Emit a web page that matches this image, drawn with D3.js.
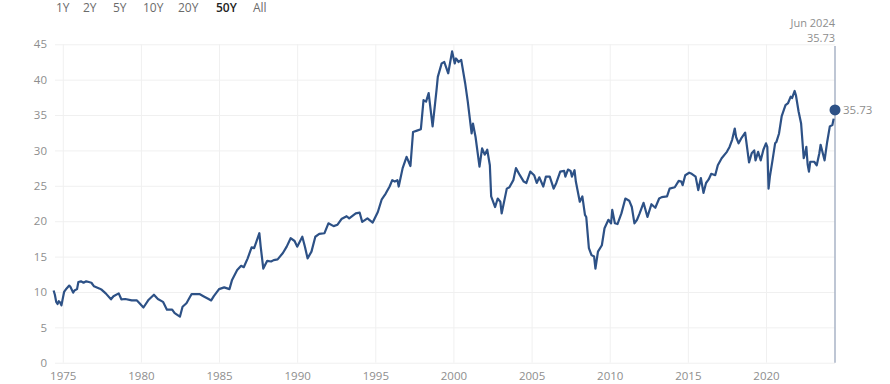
<!DOCTYPE html>
<html>
<head>
<meta charset="utf-8">
<script src="https://cdn.jsdelivr.net/npm/d3@7"></script>
<style>
  body { margin: 0; background: #fff; }
  svg { display: block; font-family: "Open Sans", "Noto Sans", sans-serif; }
</style>
</head>
<body>
<svg width="890" height="384"></svg>
<script>
// range buttons across the top
const ranges = ['1Y', '2Y', '5Y', '10Y', '20Y', '50Y', 'All'];
const activeRange = '50Y';

// y ticks and x ticks
const yTicks = [0, 5, 10, 15, 20, 25, 30, 35, 40, 45];
const xTickYears = [1975, 1980, 1985, 1990, 1995, 2000, 2005, 2010, 2015, 2020];

// monthly readings (month, value)
const months = [
  '1974-06','1974-07','1974-08','1974-09','1974-10','1974-11','1974-12',
  '1975-02','1975-04','1975-06','1975-07','1975-09','1975-10','1975-12',
  '1976-01','1976-03','1976-05','1976-07','1976-09','1976-11',
  '1977-01','1977-05','1977-07','1977-10',
  '1978-02','1978-04','1978-08','1978-10',
  '1979-01','1979-06','1979-10','1979-12',
  '1980-03','1980-07','1980-11',
  '1981-02','1981-06','1981-09',
  '1982-01','1982-03','1982-07','1982-09','1982-12',
  '1983-04','1983-10',
  '1984-01','1984-05','1984-07','1984-09',
  '1985-01','1985-05','1985-09','1985-11',
  '1986-03','1986-06','1986-08','1986-11',
  '1987-02','1987-04','1987-08','1987-09','1987-11',
  '1988-02','1988-05','1988-07','1988-10',
  '1989-02','1989-05','1989-08','1989-11',
  '1990-01','1990-05','1990-07','1990-09','1990-12',
  '1991-03','1991-06','1991-10',
  '1992-01','1992-05','1992-08','1992-11',
  '1993-03','1993-05','1993-10',
  '1994-01','1994-03','1994-07','1994-11',
  '1995-03','1995-06','1995-09','1995-12',
  '1996-02','1996-04','1996-06','1996-07','1996-10',
  '1997-01','1997-04','1997-06','1997-09','1997-12',
  '1998-02','1998-04','1998-06','1998-09','1998-12',
  '1999-01','1999-04','1999-06','1999-09','1999-12',
  '2000-02','2000-03','2000-05','2000-07','2000-10','2000-12',
  '2001-03','2001-04','2001-06','2001-09','2001-11',
  '2002-01','2002-03','2002-05','2002-06','2002-09','2002-11',
  '2003-01','2003-02','2003-06','2003-08','2003-11',
  '2004-01','2004-04','2004-07','2004-09','2004-12',
  '2005-03','2005-05','2005-07','2005-10','2005-12',
  '2006-03','2006-06','2006-08','2006-11',
  '2007-02','2007-03','2007-05','2007-07','2007-08','2007-10','2007-11',
  '2008-02','2008-04','2008-06','2008-07','2008-09','2008-11',
  '2009-01','2009-02','2009-04','2009-07','2009-09','2009-12',
  '2010-02','2010-03','2010-05','2010-07','2010-10',
  '2011-01','2011-04','2011-06','2011-08','2011-10','2011-12',
  '2012-03','2012-06','2012-09','2012-12',
  '2013-03','2013-05','2013-09','2013-11',
  '2014-03','2014-06','2014-08','2014-09','2014-11',
  '2015-02','2015-04','2015-07','2015-09','2015-11',
  '2016-01','2016-03','2016-05','2016-07','2016-10','2016-12',
  '2017-03','2017-07','2017-09','2017-11',
  '2018-01','2018-02','2018-04','2018-06','2018-09','2018-12',
  '2019-02','2019-04','2019-05','2019-07','2019-09','2019-11',
  '2020-01','2020-02','2020-03','2020-04','2020-06','2020-08','2020-09','2020-11',
  '2021-01','2021-04','2021-06','2021-08','2021-09','2021-11','2021-12',
  '2022-02','2022-04','2022-06','2022-07','2022-08','2022-09','2022-10','2022-11',
  '2023-02','2023-04','2023-06','2023-07','2023-10','2023-12',
  '2024-02','2024-04','2024-05'
];
const values = [
  10.2, 9.6, 8.6, 8.3, 8.7, 8.5, 8.1,
  10.0, 10.5, 10.9, 10.7, 9.9, 10.2, 10.4,
  11.4, 11.5, 11.3, 11.5, 11.4, 11.3,
  10.8, 10.5, 10.3, 9.8,
  8.96, 9.4, 9.8, 8.96,
  9.0, 8.8, 8.8, 8.4,
  7.8, 8.9, 9.6,
  9.0, 8.6, 7.5,
  7.5, 7.0, 6.5, 7.9, 8.4,
  9.7, 9.7,
  9.4, 9.0, 8.8, 9.4,
  10.4, 10.65, 10.4, 11.7,
  13.1, 13.7, 13.5, 14.75,
  16.3, 16.2, 18.3, 16.4, 13.3,
  14.4, 14.3, 14.5, 14.6,
  15.5, 16.4, 17.6, 17.2,
  16.4, 17.8, 16.4, 14.75, 15.7,
  17.8, 18.2, 18.3,
  19.7, 19.3, 19.5, 20.3,
  20.7, 20.4, 21.1,
  21.2, 19.9, 20.4, 19.8,
  21.3, 23.1, 23.9, 24.9,
  25.8, 25.6, 25.8, 24.9, 27.5,
  29.1, 27.8, 32.6, 32.8, 33.0,
  37.1, 36.9, 38.1, 33.4, 38.5,
  40.4, 42.3, 42.5, 40.9, 44.0,
  42.3, 43.0, 42.5, 42.8, 39.5, 36.9,
  32.4, 33.8, 31.9, 27.7, 30.3,
  29.4, 30.1, 27.9, 23.5, 22.0, 23.2,
  22.75, 21.1, 24.6, 24.8, 25.8,
  27.5, 26.5, 25.6, 25.4, 27.0,
  26.5, 25.4, 26.2, 24.9, 26.3,
  26.3, 24.6, 25.4, 27.0,
  27.1, 26.3, 27.3, 27.1, 26.3, 27.2, 25.6,
  22.75, 23.5, 20.9, 20.6, 16.2, 15.2,
  15.0, 13.3, 15.7, 16.6, 19.0, 20.2,
  19.7, 21.6, 19.7, 19.6, 21.1,
  23.2, 22.9, 22.0, 19.7, 20.2, 21.1,
  22.6, 20.6, 22.4, 21.9,
  23.2, 23.4, 23.5, 24.6,
  24.8, 25.7, 25.6, 25.1, 26.5,
  26.85, 26.7, 26.3, 24.4, 26.1,
  24.0, 25.4, 25.9, 26.7, 26.5, 27.9,
  28.9, 29.8, 30.5, 31.5,
  33.1, 31.9, 31.0, 31.7, 32.5, 28.3,
  29.6, 30.0, 28.6, 29.8, 28.6, 30.1,
  31.0, 30.5, 24.6, 26.3, 28.6, 31.0, 31.2, 32.4,
  34.8, 36.4, 36.7, 37.6, 37.4, 38.4, 37.8,
  35.5, 33.8, 28.9, 29.5, 30.5, 28.0, 27.0, 28.4,
  28.4, 27.9, 29.6, 30.8, 28.6, 31.2,
  33.4, 33.6, 34.5
];

// latest reading shown with the marker
const lastLabel = 'Jun 2024';
const lastMonth = '2024-06';
const lastValue = 35.73;

const parseMonth = d3.timeParse('%Y-%m');
const data = months.map((m, i) => ({ date: parseMonth(m), value: values[i] }));

const svg = d3.select('svg');

const x = d3.scaleTime()
  .domain([parseMonth('1974-06'), parseMonth(lastMonth)])
  .range([53.6, 835]);

const y = d3.scaleLinear()
  .domain([0, 45])
  .range([362.7, 44.3]);

const gridColor = '#f0f0f0';
const labelColor = '#8e8e8e';
const lineColor = '#2d5186';
const fontStack = '"Open Sans", "Noto Sans", sans-serif';

// range buttons
const btnX = [56, 83, 113, 143, 178, 216, 253];
svg.append('g').selectAll('text')
  .data(ranges)
  .join('text')
  .attr('x', (d, i) => btnX[i])
  .attr('y', 12)
  .attr('font-size', 12)
  .attr('fill', d => d === activeRange ? '#222' : '#6b6b6b')
  .attr('font-weight', d => d === activeRange ? 600 : 400)
  .text(d => d);

// horizontal grid + y labels
const yAxis = svg.append('g')
  .attr('transform', 'translate(55,0)')
  .call(d3.axisLeft(y).tickValues(yTicks).tickSize(-780).tickPadding(8));
yAxis.select('.domain').remove();
yAxis.selectAll('.tick line').attr('stroke', gridColor);
yAxis.selectAll('.tick text')
  .attr('fill', labelColor)
  .attr('font-size', 11.5)
  .attr('font-family', fontStack);

// vertical grid + x labels
const xAxis = svg.append('g')
  .attr('transform', 'translate(0,' + y(0) + ')')
  .call(d3.axisBottom(x)
    .tickValues(xTickYears.map(yr => new Date(yr, 0, 1)))
    .tickFormat(d3.timeFormat('%Y'))
    .tickSize(-(y(0) - y(45)))
    .tickPadding(9));
xAxis.select('.domain').remove();
xAxis.selectAll('.tick line').attr('stroke', gridColor);
xAxis.selectAll('.tick text')
  .attr('fill', labelColor)
  .attr('font-size', 11.5)
  .attr('font-family', fontStack);

// marker line at latest date
const lastX = x(parseMonth(lastMonth));
svg.append('line')
  .attr('x1', lastX).attr('x2', lastX)
  .attr('y1', 46).attr('y2', y(0))
  .attr('stroke', '#a9b3c6')
  .attr('stroke-width', 1.5);

// the series
const line = d3.line()
  .x(d => x(d.date))
  .y(d => y(d.value));

svg.append('path')
  .datum(data)
  .attr('fill', 'none')
  .attr('stroke', lineColor)
  .attr('stroke-width', 2.2)
  .attr('stroke-linejoin', 'round')
  .attr('d', line);

// last value dot + labels
svg.append('circle')
  .attr('cx', lastX)
  .attr('cy', y(lastValue))
  .attr('r', 5.5)
  .attr('fill', lineColor);

svg.append('text')
  .attr('x', lastX + 8)
  .attr('y', y(lastValue) + 4)
  .attr('font-size', 11.5)
  .attr('fill', labelColor)
  .text(lastValue.toFixed(2));

// date / value tag above the marker line
svg.append('text')
  .attr('x', lastX)
  .attr('y', 27)
  .attr('text-anchor', 'end')
  .attr('font-size', 11)
  .attr('fill', labelColor)
  .text(lastLabel);

svg.append('text')
  .attr('x', lastX)
  .attr('y', 42)
  .attr('text-anchor', 'end')
  .attr('font-size', 11)
  .attr('fill', labelColor)
  .text(lastValue.toFixed(2));
</script>
</body>
</html>
